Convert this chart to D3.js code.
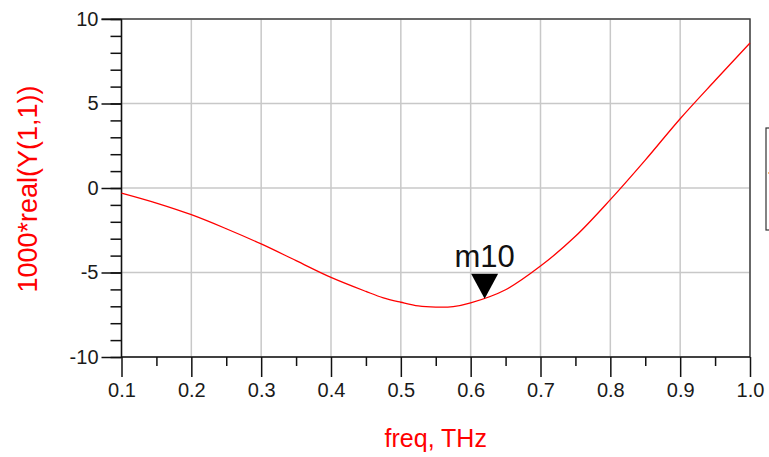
<!DOCTYPE html>
<html>
<head>
<meta charset="utf-8">
<script src="https://cdn.jsdelivr.net/npm/d3@7"></script>
<style>
  body { margin: 0; background: #fff; }
  svg { display: block; font-family: "Liberation Sans", Arial, sans-serif; }
  .tick text { fill: #1a1a1a; font-size: 20px; }
</style>
</head>
<body>
<div id="chart"></div>
<script>
"use strict";

const width = 769,
      height = 457;

// values
const freq = [0.1, 0.15, 0.2, 0.25, 0.3, 0.35, 0.4, 0.45, 0.475, 0.5, 0.525, 0.55, 0.575, 0.6, 0.65, 0.7, 0.75, 0.8, 0.85, 0.9, 0.95, 1.0];
const realY = [-0.3, -0.89, -1.58, -2.41, -3.31, -4.3, -5.29, -6.12, -6.5, -6.76, -6.98, -7.05, -7.02, -6.8, -6.02, -4.62, -2.86, -0.69, 1.65, 4.1, 6.36, 8.58];
const xTicks = [0.1, 0.2, 0.3, 0.4, 0.5, 0.6, 0.7, 0.8, 0.9, 1.0];
const yTicks = [-10, -5, 0, 5, 10];
const marker = { name: "m10", freq: 0.62, value: -6.55 };

const margin = { top: 19, right: 19, bottom: 100, left: 121.5 };

const x = d3.scaleLinear()
  .domain([0.1, 1.0])
  .range([margin.left, width - margin.right]);

const y = d3.scaleLinear()
  .domain([-10, 10])
  .range([height - margin.bottom, margin.top]);

const svg = d3.select("#chart")
  .append("svg")
  .attr("width", width)
  .attr("height", height);

// grid
svg.append("g")
  .selectAll("line")
  .data(xTicks)
  .join("line")
    .attr("x1", d => x(d))
    .attr("x2", d => x(d))
    .attr("y1", y(10))
    .attr("y2", y(-10))
    .attr("stroke", "#c8c8c8")
    .attr("stroke-width", 1.5);

svg.append("g")
  .selectAll("line")
  .data(yTicks)
  .join("line")
    .attr("x1", x(0.1))
    .attr("x2", x(1.0))
    .attr("y1", d => y(d))
    .attr("y2", d => y(d))
    .attr("stroke", "#c8c8c8")
    .attr("stroke-width", 1.5);

// top and right frame
svg.append("path")
  .attr("d", `M${x(0.1) - 20},${y(10)}H${x(1.0)}V${y(-10)}`)
  .attr("fill", "none")
  .attr("stroke", "#444")
  .attr("stroke-width", 1.5);

// minor ticks
svg.append("g")
  .attr("transform", `translate(${x(0.1)},0)`)
  .call(d3.axisLeft(y).ticks(20).tickSize(11).tickFormat(""))
  .call(g => g.select(".domain").remove())
  .selectAll("line").attr("stroke", "#111").attr("stroke-width", 1.5);

svg.append("g")
  .attr("transform", `translate(0,${y(-10)})`)
  .call(d3.axisBottom(x).tickValues(d3.range(0.15, 1.0, 0.1)).tickSize(9).tickFormat(""))
  .call(g => g.select(".domain").remove())
  .selectAll("line").attr("stroke", "#111").attr("stroke-width", 1.5);

// major axes
const yAxis = svg.append("g")
  .attr("transform", `translate(${x(0.1)},0)`)
  .call(d3.axisLeft(y).tickValues(yTicks).tickSize(20).tickPadding(3).tickFormat(d => String(d)))
  .call(g => g.select(".domain").remove());
yAxis.selectAll("line").attr("stroke", "#111").attr("stroke-width", 1.5);
yAxis.selectAll("text").attr("dy", "0.3em").style("font-family", "Liberation Sans, Arial, sans-serif");

const xAxis = svg.append("g")
  .attr("transform", `translate(0,${y(-10)})`)
  .call(d3.axisBottom(x).tickValues(xTicks).tickSize(20).tickPadding(6).tickFormat(d => d.toFixed(1)))
  .call(g => g.select(".domain").remove());
xAxis.selectAll("line").attr("stroke", "#111").attr("stroke-width", 1.5);
xAxis.selectAll("text").style("font-family", "Liberation Sans, Arial, sans-serif");

// axis lines
svg.append("path")
  .attr("d", `M${x(0.1)},${y(10)}V${y(-10)}H${x(1.0)}`)
  .attr("fill", "none")
  .attr("stroke", "#111")
  .attr("stroke-width", 1.5);

// curve
const line = d3.line()
  .x((d, i) => x(freq[i]))
  .y(d => y(d))
  .curve(d3.curveCatmullRom);

svg.append("path")
  .datum(realY)
  .attr("d", line)
  .attr("fill", "none")
  .attr("stroke", "#ff0000")
  .attr("stroke-width", 1.3);

// marker
const mx = x(marker.freq),
      my = y(marker.value);
svg.append("path")
  .attr("d", `M${mx},${my}L${mx - 13.5},${my - 25}H${mx + 13.5}Z`)
  .attr("fill", "#000");
svg.append("text")
  .attr("x", mx)
  .attr("y", my - 32)
  .attr("text-anchor", "middle")
  .attr("fill", "#111")
  .style("font-size", "31px")
  .text(marker.name);

// axis titles
svg.append("text")
  .attr("x", (x(0.1) + x(1.0)) / 2)
  .attr("y", 447)
  .attr("text-anchor", "middle")
  .attr("fill", "#ff0000")
  .style("font-size", "25px")
  .text("freq, THz");

svg.append("text")
  .attr("transform", `translate(37,${y(0) + 1}) rotate(-90)`)
  .attr("text-anchor", "middle")
  .attr("fill", "#ff0000")
  .style("font-size", "27px")
  .text("1000*real(Y(1,1))");

// clipped legend box at the right edge
svg.append("rect")
  .attr("x", 766)
  .attr("y", 128)
  .attr("width", 20)
  .attr("height", 102)
  .attr("fill", "none")
  .attr("stroke", "#333")
  .attr("stroke-width", 1.2);
svg.append("line")
  .attr("x1", 768)
  .attr("x2", 771)
  .attr("y1", 173)
  .attr("y2", 173)
  .attr("stroke", "#f0a040")
  .attr("stroke-width", 1.5);
</script>
</body>
</html>
